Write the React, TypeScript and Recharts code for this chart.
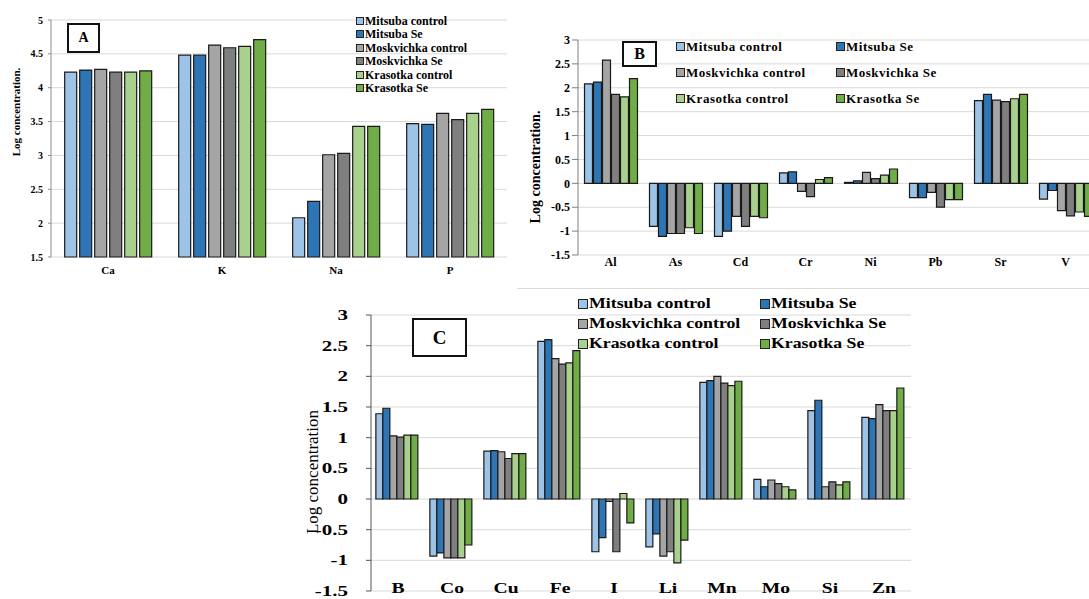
import React from 'react';
import { BarChart, Bar, XAxis, YAxis, CartesianGrid } from 'recharts';

const FONT = "'Liberation Serif', 'Times New Roman', serif";

const seriesNames = [
  'Mitsuba control',
  'Mitsuba Se',
  'Moskvichka control',
  'Moskvichka Se',
  'Krasotka control',
  'Krasotka Se',
];
const seriesColors = ['#9dc3e6', '#2e75b6', '#a5a5a5', '#7f7f7f', '#a9d18e', '#70ad47'];

// Panel A - macro elements
const macroElements = ['Ca', 'K', 'Na', 'P'];
const macroValues = [
  [4.23, 4.48, 2.08, 3.47],
  [4.26, 4.48, 2.32, 3.46],
  [4.27, 4.63, 3.01, 3.62],
  [4.23, 4.59, 3.03, 3.53],
  [4.23, 4.61, 3.43, 3.62],
  [4.25, 4.71, 3.43, 3.68],
];
const macroTicks = [1.5, 2, 2.5, 3, 3.5, 4, 4.5, 5];

// Panel B - toxic / other elements
const toxicElements = ['Al', 'As', 'Cd', 'Cr', 'Ni', 'Pb', 'Sr', 'V'];
const toxicValues = [
  [2.08, -0.9, -1.11, 0.22, 0.02, -0.3, 1.73, -0.33],
  [2.12, -1.11, -1.0, 0.24, 0.05, -0.3, 1.86, -0.15],
  [2.58, -1.05, -0.69, -0.17, 0.23, -0.19, 1.74, -0.57],
  [1.86, -1.05, -0.9, -0.28, 0.1, -0.5, 1.71, -0.68],
  [1.81, -0.93, -0.69, 0.08, 0.17, -0.34, 1.77, -0.6],
  [2.19, -1.05, -0.72, 0.12, 0.3, -0.34, 1.86, -0.69],
];

// Panel C - trace elements
const traceElements = ['B', 'Co', 'Cu', 'Fe', 'I', 'Li', 'Mn', 'Mo', 'Si', 'Zn'];
const traceValues = [
  [1.39, -0.93, 0.78, 2.57, -0.86, -0.78, 1.9, 0.32, 1.44, 1.33],
  [1.48, -0.88, 0.79, 2.6, -0.63, -0.57, 1.93, 0.2, 1.61, 1.31],
  [1.03, -0.96, 0.77, 2.29, -0.04, -0.93, 2.0, 0.31, 0.2, 1.54],
  [1.01, -0.96, 0.66, 2.2, -0.86, -0.86, 1.89, 0.25, 0.28, 1.44],
  [1.04, -0.96, 0.74, 2.22, 0.09, -1.04, 1.85, 0.2, 0.23, 1.44],
  [1.04, -0.75, 0.74, 2.42, -0.39, -0.67, 1.92, 0.15, 0.28, 1.81],
];
const signedTicks = [-1.5, -1, -0.5, 0, 0.5, 1, 1.5, 2, 2.5, 3];

const buildRows = (cats: string[], values: number[][]) =>
  cats.map((name, i) => {
    const row: Record<string, string | number> = { name };
    values.forEach((vals, s) => {
      row['s' + s] = vals[i];
    });
    return row;
  });

const macroData = buildRows(macroElements, macroValues);
const toxicData = buildRows(toxicElements, toxicValues);
const traceData = buildRows(traceElements, traceValues);

const yLabel = (text: string, x: number, y: number, size: number, weight: string) => () => (
  <text
    x={x}
    y={y}
    transform={`rotate(-90 ${x} ${y})`}
    textAnchor="middle"
    dominantBaseline="central"
    fontFamily={FONT}
    fontSize={size}
    fontWeight={weight}
    fill="#000"
  >
    {text}
  </text>
);

// panel C in the source image is stretched sideways, so its texts are too
const wideTick = (anchor: string, size: number, dx: number, dy: number) => (p: any) => (
  <text
    transform={`translate(${p.x + dx},${p.y + dy}) scale(1.4,1)`}
    textAnchor={anchor}
    dominantBaseline="central"
    fontFamily={FONT}
    fontWeight="bold"
    fontSize={size}
    fill="#000"
  >
    {p.payload.value}
  </text>
);

const bars = () =>
  seriesNames.map((n, s) => (
    <Bar
      key={n}
      dataKey={'s' + s}
      name={n}
      fill={seriesColors[s]}
      stroke="#1a1a1a"
      strokeWidth={1.2}
      isAnimationActive={false}
    />
  ));

const LetterBox = ({ letter, left, top, w, h, size }: any) => (
  <div
    style={{
      position: 'absolute',
      left,
      top,
      width: w,
      height: h,
      boxSizing: 'border-box',
      border: '2px solid #111',
      background: '#fff',
      display: 'flex',
      alignItems: 'center',
      justifyContent: 'center',
      fontFamily: FONT,
      fontWeight: 'bold',
      fontSize: size,
    }}
  >
    {letter}
  </div>
);

const LegendItem = ({ idx, left, top, size, marker, spacing, stretch = 1 }: any) => (
  <div
    style={{
      position: 'absolute',
      left,
      top: top - size * 0.6,
      height: size * 1.2,
      display: 'flex',
      alignItems: 'center',
      whiteSpace: 'nowrap',
      fontFamily: FONT,
      fontWeight: 'bold',
      fontSize: size,
      letterSpacing: spacing,
    }}
  >
    <span
      style={{
        display: 'inline-block',
        width: marker,
        height: marker,
        boxSizing: 'border-box',
        border: '1.3px solid #222',
        background: seriesColors[idx],
        marginRight: 1,
      }}
    />
    <span style={{ display: 'inline-block', transform: `scaleX(${stretch})`, transformOrigin: 'left center' }}>
      {seriesNames[idx]}
    </span>
  </div>
);

export default function App() {
  const tickStyle = (size: number) => ({
    fontSize: size,
    fontWeight: 'bold',
    fontFamily: FONT,
    fill: '#000',
  });

  return (
    <div
      style={{
        position: 'absolute',
        left: 0,
        top: 0,
        width: 1089,
        height: 599,
        overflow: 'hidden',
        background: '#fff',
      }}
    >
      {/* Panel A */}
      <div style={{ position: 'absolute', left: 0, top: 0 }}>
        <BarChart
          width={520}
          height={285}
          data={macroData}
          margin={{ top: 20, right: 13, bottom: 0, left: 0 }}
          barCategoryGap="12%"
          barGap={3}
        >
          <CartesianGrid vertical={false} stroke="#d9d9d9" />
          <XAxis
            dataKey="name"
            height={28}
            axisLine={false}
            tickLine={false}
            tickSize={0}
            tickMargin={9}
            tick={tickStyle(11)}
          />
          <YAxis
            width={51}
            domain={[1.5, 5]}
            ticks={macroTicks}
            interval={0}
            stroke="#8c8c8c"
            tickSize={3}
            tickMargin={5}
            tick={tickStyle(10)}
            label={{ content: yLabel('Log concentration.', 16, 112, 11, 'bold') }}
          />
          {bars()}
        </BarChart>
      </div>
      <LetterBox letter="A" left={67} top={23} w={33} h={30} size={14} />
      {seriesNames.map((n, i) => (
        <LegendItem key={n} idx={i} left={356} top={21 + i * 13.5} size={12} marker={8} spacing={0} />
      ))}

      {/* Panel B */}
      <div style={{ position: 'absolute', left: 520, top: 0 }}>
        <BarChart
          width={600}
          height={285}
          data={toxicData}
          margin={{ top: 40, right: 22, bottom: 0, left: 0 }}
          barCategoryGap="10%"
          barGap={1}
        >
          <CartesianGrid vertical={false} stroke="#d9d9d9" />
          <XAxis
            dataKey="name"
            height={30}
            axisLine={false}
            tickLine={false}
            tickSize={0}
            tickMargin={2}
            tick={tickStyle(12)}
          />
          <YAxis
            width={58}
            domain={[-1.5, 3]}
            ticks={signedTicks}
            interval={0}
            stroke="#7f7f7f"
            tickSize={6}
            tickMargin={2}
            tick={tickStyle(12)}
            label={{ content: yLabel('Log concentration.', 15, 167, 14, 'bold') }}
          />
          {bars()}
        </BarChart>
      </div>
      <LetterBox letter="B" left={622} top={41} w={35} h={26} size={16} />
      {[0, 2, 4].map((idx, r) => (
        <LegendItem key={idx} idx={idx} left={676} top={47 + r * 26} size={13} marker={9} spacing={0.5} />
      ))}
      {[1, 3, 5].map((idx, r) => (
        <LegendItem key={idx} idx={idx} left={836} top={47 + r * 26} size={13} marker={9} spacing={0.5} />
      ))}
      <div style={{ position: 'absolute', left: 517, top: 288, width: 572, height: 1, background: '#dcdcdc' }} />

      {/* Panel C */}
      <div style={{ position: 'absolute', left: 300, top: 290 }}>
        <BarChart
          width={640}
          height={309}
          data={traceData}
          margin={{ top: 25, right: 29, bottom: 0, left: 0 }}
          barCategoryGap="9%"
          barGap={0}
        >
          <CartesianGrid vertical={false} stroke="#d9d9d9" />
          <XAxis
            dataKey="name"
            height={8}
            axisLine={false}
            tickLine={false}
            tickSize={0}
            tick={wideTick('middle', 14, 0, -5)}
          />
          <YAxis
            width={71}
            domain={[-1.5, 3]}
            ticks={signedTicks}
            interval={0}
            stroke="#555"
            tickSize={5}
            tickMargin={18}
            tick={wideTick('end', 15, 0, 0)}
            label={{ content: yLabel('Log concentration', 12, 182, 17, 'normal') }}
          />
          {bars()}
        </BarChart>
      </div>
      <LetterBox letter="C" left={412} top={318} w={55} h={39} size={19} />
      {[0, 2, 4].map((idx, r) => (
        <LegendItem key={idx} idx={idx} left={578} top={304 + r * 20} size={14} marker={10} spacing={0} stretch={1.27} />
      ))}
      {[1, 3, 5].map((idx, r) => (
        <LegendItem key={idx} idx={idx} left={760} top={304 + r * 20} size={14} marker={10} spacing={0} stretch={1.27} />
      ))}
    </div>
  );
}
